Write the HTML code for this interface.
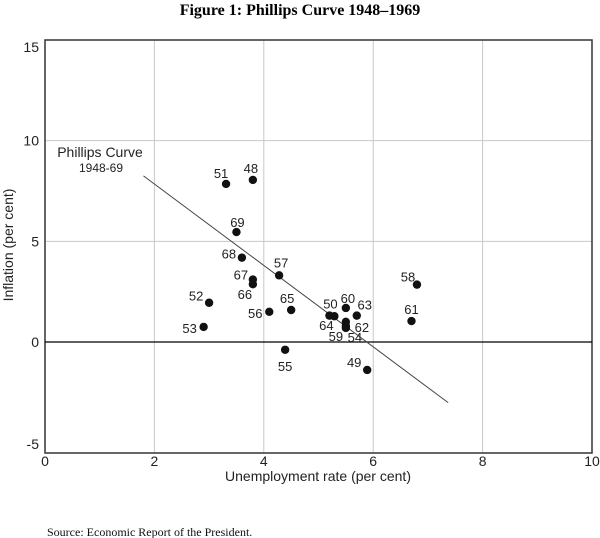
<!DOCTYPE html>
<html><head><meta charset="utf-8"><style>
body{margin:0;background:#fff;}
svg{display:block;font-family:"Liberation Sans",Arial,sans-serif;}
</style></head><body>
<svg width="600" height="538" viewBox="0 0 600 538">
<text x="300" y="15" text-anchor="middle" font-family="Liberation Serif,serif" font-weight="bold" font-size="16">Figure 1: Phillips Curve 1948–1969</text>
<g id="grid"></g>
<g id="axes"></g>
<g id="marks"></g>
<text transform="translate(13,245) rotate(-90)" text-anchor="middle" font-size="14" fill="#222">Inflation (per cent)</text>
<text x="318" y="481" text-anchor="middle" font-size="14" fill="#222">Unemployment rate (per cent)</text>
<text x="47" y="536" font-family="Liberation Serif,serif" font-size="12" fill="#111">Source: Economic Report of the President.</text>
<text x="100" y="157" text-anchor="middle" font-size="14" fill="#222">Phillips Curve</text>
<text x="101" y="172" text-anchor="middle" font-size="12" fill="#222">1948-69</text>
</svg>
<script>
const years=["48","49","50","51","52","53","54","55","56","57","58","59","60","61","62","63","64","65","66","67","68","69"];
const unemp=[3.8,5.89,5.2,3.31,3.0,2.9,5.5,4.39,4.1,4.28,6.8,5.5,5.5,6.7,5.5,5.7,5.29,4.5,3.8,3.8,3.6,3.5];
const infl=[8.05,-1.26,1.31,7.85,1.95,0.75,0.7,-0.35,1.5,3.31,2.85,0.8,1.69,1.04,1.0,1.31,1.28,1.59,2.87,3.1,4.19,5.46];
const labelDx=[-2,-13,1,-5,-13,-14,9,0,-14,2,-9,-10,2,0,16,8,-8,-4,-8,-12,-13,1];
const labelDy=[-12,-8,-12,-11,-7,1,9,16,1,-13,-8,10,-10,-12,5,-11,9,-12,10,-5,-4,-10];
const xTicks=[0,2,4,6,8,10];
const yTicks=[15,10,5,0,-5];
const curveX=[1.8,7.37];
const curveY=[8.25,-2.73];
const NS="http://www.w3.org/2000/svg";
const X0=45,X1=592,Ytop=40,Yzero=342,Ybot=453;
function sx(v){return X0+(v/10)*(X1-X0);}
function sy(v){return v>=0?Yzero-(v/15)*(Yzero-Ytop):Yzero-(v/5)*(Ybot-Yzero);}
function mk(tag,attrs,parent){const e=document.createElementNS(NS,tag);for(const k in attrs)e.setAttribute(k,attrs[k]);parent.appendChild(e);return e;}
const grid=document.getElementById('grid'),axes=document.getElementById('axes'),marks=document.getElementById('marks');
xTicks.forEach(t=>{
 if(t>0&&t<10){const l=mk('line',{x1:sx(t),x2:sx(t),y1:Ytop,y2:Ybot,stroke:'#c8c8c8','stroke-width':1},grid);
 
 }
 const tx=mk('text',{x:sx(t),y:Ybot+13,'text-anchor':'middle','font-size':14,fill:'#222'},axes);tx.textContent=t;
 
 
});
yTicks.forEach(t=>{
 if(t!==15&&t!==-5&&t!==0){const l=mk('line',{x1:X0,x2:X1,y1:sy(t),y2:sy(t),stroke:'#c8c8c8','stroke-width':1},grid);
 
 }
 let ly=sy(t)+5; if(t===15) ly+=7; if(t===-5) ly-=9;
 const tx=mk('text',{x:X0-6,y:ly,'text-anchor':'end','font-size':14,fill:'#222'},axes);tx.textContent=t;
 
 
});
const frame=mk('rect',{x:X0,y:Ytop,width:X1-X0,height:Ybot-Ytop,fill:'none',stroke:'#333','stroke-width':1.5},axes);


const zl=mk('line',{x1:X0,x2:X1,y1:sy(0),y2:sy(0),stroke:'#000','stroke-width':1.3},axes);


const cl=mk('line',{x1:sx(curveX[0]),y1:sy(curveY[0]),x2:sx(curveX[1]),y2:sy(curveY[1]),stroke:'#444','stroke-width':1},marks);


years.forEach((y,i)=>{
 const cx=sx(unemp[i]),cy=sy(infl[i]);
 const c=mk('circle',{cx:cx,cy:cy,r:4.2,fill:'#111'},marks);
 
 
 const t=mk('text',{x:cx+labelDx[i],y:cy+labelDy[i]+5,'text-anchor':'middle','font-size':13,fill:'#222'},marks);
 t.textContent=y;
 
 
});
</script>
</body></html>
